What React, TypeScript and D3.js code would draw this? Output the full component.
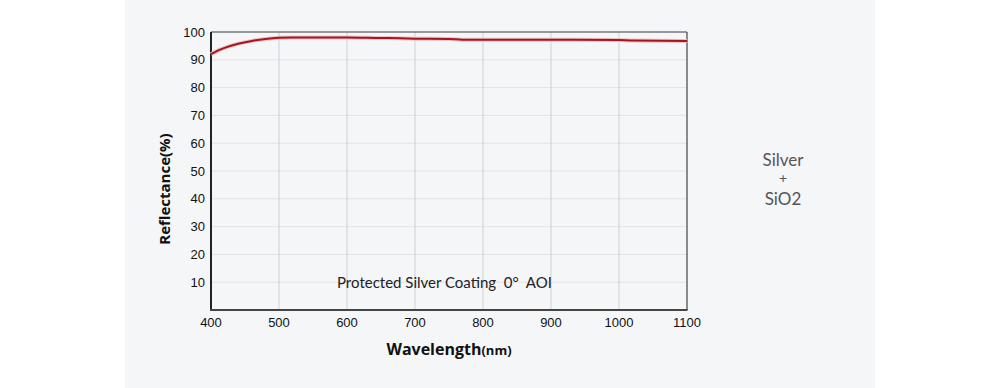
import React, { useEffect, useRef } from 'react';
import * as d3 from 'd3';

const wavelengths = [400, 410, 420, 440, 460, 480, 500, 520, 550, 600, 630, 660, 700, 750, 770, 800, 900, 1000, 1020, 1100];
const reflectance = [92, 93.3, 94.3, 95.8, 96.8, 97.5, 97.9, 98, 98, 98, 97.9, 97.8, 97.6, 97.5, 97.2, 97.2, 97.2, 97.1, 96.9, 96.8];
const xTicks = [400, 500, 600, 700, 800, 900, 1000, 1100];
const yTicks = [10, 20, 30, 40, 50, 60, 70, 80, 90, 100];
const noteLines = ['Silver', '+', 'SiO2'];

const App: React.FC = () => {
  const svgRef = useRef<SVGSVGElement>(null);

  useEffect(() => {
    if (!svgRef.current) return;
    const svg = d3.select(svgRef.current);
    svg.selectAll('*').remove();

    const width = 1000;
    const height = 388;
    const left = 211, right = 687, top = 32, bottom = 310;

    // panel background
    svg.append('rect').attr('width', width).attr('height', height).attr('fill', '#ffffff');
    svg.append('rect').attr('x', 125).attr('y', 0).attr('width', 750).attr('height', height).attr('fill', '#f5f6f8');

    const x = d3.scaleLinear().domain([400, 1100]).range([left, right]);
    const y = d3.scaleLinear().domain([0, 100]).range([bottom, top]);

    // grid
    svg.append('g').selectAll('line')
      .data(yTicks)
      .enter().append('line')
      .attr('x1', left).attr('x2', right)
      .attr('y1', d => y(d)).attr('y2', d => y(d))
      .style('stroke', '#e2e3e6').style('stroke-width', 1);

    svg.append('g').selectAll('line')
      .data(xTicks.slice(1, -1))
      .enter().append('line')
      .attr('x1', d => x(d)).attr('x2', d => x(d))
      .attr('y1', top).attr('y2', bottom)
      .style('stroke', '#cfd0d3').style('stroke-width', 1);

    // frame: thin top/right, heavier left/bottom
    svg.append('line').attr('x1', left).attr('x2', right).attr('y1', top).attr('y2', top)
      .style('stroke', '#444').style('stroke-width', 1.2);
    svg.append('line').attr('x1', right).attr('x2', right).attr('y1', top).attr('y2', bottom)
      .style('stroke', '#444').style('stroke-width', 1.2);
    svg.append('line').attr('x1', left).attr('x2', left).attr('y1', top).attr('y2', bottom + 1)
      .style('stroke', '#222').style('stroke-width', 2);
    svg.append('line').attr('x1', left - 1).attr('x2', right + 0.5).attr('y1', bottom).attr('y2', bottom)
      .style('stroke', '#444').style('stroke-width', 2);

    // tick labels
    svg.append('g').selectAll('text')
      .data(yTicks)
      .enter().append('text')
      .attr('x', left - 6).attr('y', d => y(d))
      .attr('dy', '0.35em')
      .attr('text-anchor', 'end')
      .style('font-family', '"Liberation Sans", Arial, sans-serif')
      .style('font-size', '13px')
      .style('fill', '#111')
      .text(d => d);

    svg.append('g').selectAll('text')
      .data(xTicks)
      .enter().append('text')
      .attr('x', d => x(d)).attr('y', bottom + 17)
      .attr('text-anchor', 'middle')
      .style('font-family', '"Liberation Sans", Arial, sans-serif')
      .style('font-size', '13px')
      .style('fill', '#111')
      .text(d => d);

    // axis titles
    svg.append('text')
      .attr('transform', `translate(170, ${(top + bottom) / 2 + 18}) rotate(-90)`)
      .attr('text-anchor', 'middle')
      .style('font-family', '"Open Sans", sans-serif')
      .style('font-weight', 'bold')
      .style('font-size', '15px')
      .style('fill', '#111')
      .text('Reflectance(%)');

    const xTitle = svg.append('text')
      .attr('x', (left + right) / 2).attr('y', 355)
      .attr('text-anchor', 'middle')
      .style('font-family', '"Open Sans", sans-serif')
      .style('font-weight', 'bold')
      .style('fill', '#111');
    xTitle.append('tspan').style('font-size', '16px').text('Wavelength');
    xTitle.append('tspan').style('font-size', '13px').text('(nm)');

    // curve
    const pts = wavelengths.map((w, i) => [w, reflectance[i]] as [number, number]);
    const line = d3.line<[number, number]>()
      .x(d => x(d[0]))
      .y(d => y(d[1]))
      .curve(d3.curveMonotoneX);

    svg.append('path')
      .datum(pts)
      .attr('d', line)
      .style('fill', 'none')
      .style('stroke', '#f0c2c4')
      .style('stroke-width', 4);
    svg.append('path')
      .datum(pts)
      .attr('d', line)
      .style('fill', 'none')
      .style('stroke', '#a8141c')
      .style('stroke-width', 2);

    // annotation
    svg.append('text')
      .attr('x', 337).attr('y', y(10) + 6)
      .style('font-family', 'Lato, sans-serif')
      .style('font-size', '15px')
      .style('fill', '#222')
      .attr('xml:space', 'preserve')
      .text('Protected Silver Coating  0°  AOI');

    svg.append('g').selectAll('text')
      .data(noteLines)
      .enter().append('text')
      .attr('x', 783)
      .attr('y', (_, i) => [166, 183, 205][i])
      .attr('text-anchor', 'middle')
      .style('font-family', 'Lato, sans-serif')
      .style('font-size', (_, i) => (i === 1 ? '14px' : '17px'))
      .style('fill', '#555')
      .text(d => d);
  }, []);

  return (
    <svg ref={svgRef} width={1000} height={388}
      style={{ position: 'absolute', left: 0, top: 0, display: 'block' }} />
  );
};

export default App;
